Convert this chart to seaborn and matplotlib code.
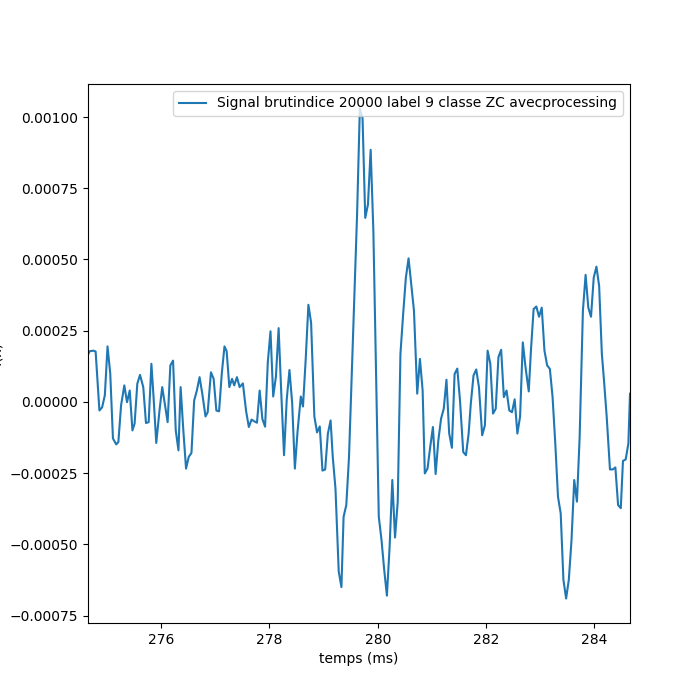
"""
plot.py — raw signal window (index 20000, label 9, class ZC) with processing.
"""

import matplotlib
matplotlib.use("Agg")

import matplotlib.pyplot as plt
import seaborn as sns
import pandas as pd

# ──────────────────────────────────────────────
# DATA
# ──────────────────────────────────────────────

temps_ms = [
    274.64, 274.68, 274.75, 274.79, 274.86, 274.91, 274.96, 275.01, 275.06, 275.11,
    275.17, 275.21, 275.26, 275.32, 275.37, 275.42, 275.47, 275.51, 275.56, 275.61,
    275.67, 275.72, 275.77, 275.82, 275.86, 275.91, 275.97, 276.02, 276.12, 276.17,
    276.22, 276.27, 276.32, 276.36, 276.41, 276.46, 276.51, 276.56, 276.61, 276.66,
    276.71, 276.76, 276.82, 276.86, 276.92, 276.97, 277.02, 277.07, 277.12, 277.17,
    277.21, 277.26, 277.31, 277.35, 277.40, 277.45, 277.51, 277.57, 277.62, 277.67,
    277.72, 277.77, 277.82, 277.87, 277.92, 277.97, 278.02, 278.07, 278.12, 278.17,
    278.22, 278.27, 278.32, 278.37, 278.42, 278.47, 278.52, 278.58, 278.62, 278.67,
    278.72, 278.77, 278.83, 278.88, 278.93, 278.98, 279.03, 279.08, 279.13, 279.17,
    279.22, 279.28, 279.33, 279.37, 279.42, 279.47, 279.52, 279.57, 279.62, 279.67,
    279.72, 279.77, 279.82, 279.87, 279.92, 279.97, 280.02, 280.07, 280.12, 280.17,
    280.22, 280.27, 280.32, 280.37, 280.42, 280.47, 280.52, 280.57, 280.62, 280.67,
    280.73, 280.78, 280.83, 280.87, 280.92, 280.97, 281.02, 281.07, 281.12, 281.17,
    281.22, 281.27, 281.32, 281.37, 281.42, 281.47, 281.52, 281.58, 281.63, 281.68,
    281.72, 281.77, 281.82, 281.87, 281.93, 281.98, 282.03, 282.08, 282.13, 282.18,
    282.23, 282.28, 282.33, 282.38, 282.43, 282.48, 282.53, 282.58, 282.63, 282.68,
    282.73, 282.79, 282.83, 282.88, 282.93, 282.98, 283.03, 283.08, 283.13, 283.18,
    283.23, 283.28, 283.33, 283.38, 283.43, 283.48, 283.53, 283.58, 283.63, 283.68,
    283.73, 283.79, 283.84, 283.89, 283.94, 283.99, 284.04, 284.09, 284.14, 284.18,
    284.23, 284.29, 284.34, 284.39, 284.44, 284.49, 284.53, 284.58, 284.63, 284.66,
]

signal = [
    16.3e-5, 17.8e-5, 18.0e-5, 17.7e-5, -3.0e-5, -1.9e-5, 2.3e-5, 19.5e-5, 10.0e-5, -12.8e-5,
    -14.9e-5, -14.1e-5, -1.2e-5, 5.8e-5, -0.1e-5, 4.0e-5, -10.0e-5, -7.6e-5, 6.4e-5, 9.5e-5,
    5.2e-5, -7.4e-5, -7.1e-5, 13.4e-5, 1.7e-5, -14.4e-5, -3.0e-5, 5.2e-5, -7.1e-5, 12.8e-5,
    14.5e-5, -10.0e-5, -17.0e-5, 5.2e-5, -10.0e-5, -23.4e-5, -19.3e-5, -17.9e-5, 0.5e-5, 4.0e-5,
    8.7e-5, 2.9e-5, -5.1e-5, -3.6e-5, 10.4e-5, 8.1e-5, -3.0e-5, -3.3e-5, 9.9e-5, 19.5e-5,
    17.8e-5, 5.2e-5, 8.1e-5, 5.8e-5, 8.7e-5, 5.2e-5, 6.5e-5, -3.3e-5, -8.8e-5, -6.2e-5,
    -6.8e-5, -7.3e-5, 4.0e-5, -6.0e-5, -8.7e-5, 13.9e-5, 24.8e-5, 1.9e-5, 8.9e-5, 25.9e-5,
    2.6e-5, -18.7e-5, 0.9e-5, 11.2e-5, -0.3e-5, -23.4e-5, -10.3e-5, 1.9e-5, -1.6e-5, 14.9e-5,
    34.1e-5, 27.8e-5, -5.1e-5, -10.7e-5, -8.6e-5, -24.1e-5, -23.7e-5, -11.1e-5, -6.5e-5, -19.3e-5,
    -30.4e-5, -59.5e-5, -65.0e-5, -40.3e-5, -36.2e-5, -19.3e-5, 8.7e-5, 37.8e-5, 66.4e-5, 103.0e-5,
    99.6e-5, 64.6e-5, 69.3e-5, 88.5e-5, 60.0e-5, 10.0e-5, -40.3e-5, -48.4e-5, -58.9e-5, -68.0e-5,
    -50.8e-5, -27.4e-5, -47.6e-5, -35.0e-5, 16.9e-5, 30.8e-5, 43.6e-5, 50.4e-5, 41.3e-5, 32.0e-5,
    2.9e-5, 15.1e-5, 4.0e-5, -25.1e-5, -23.4e-5, -15.8e-5, -8.8e-5, -25.3e-5, -13.5e-5, -5.9e-5,
    -2.4e-5, 7.8e-5, -11.0e-5, -16.1e-5, 9.8e-5, 11.7e-5, 0.5e-5, -17.6e-5, -18.7e-5, -11.0e-5,
    -0.5e-5, 9.3e-5, 11.4e-5, 5.2e-5, -11.7e-5, -8.2e-5, 18.0e-5, 13.4e-5, -4.1e-5, -2.4e-5,
    15.7e-5, 18.3e-5, 1.7e-5, 4.0e-5, -3.0e-5, -3.6e-5, 0.9e-5, -11.1e-5, -5.1e-5, 20.9e-5,
    12.2e-5, 3.7e-5, 18.0e-5, 32.6e-5, 33.5e-5, 29.9e-5, 33.1e-5, 18.0e-5, 12.8e-5, 11.6e-5,
    1.7e-5, -14.6e-5, -33.3e-5, -39.1e-5, -62.4e-5, -69.0e-5, -62.4e-5, -48.4e-5, -27.4e-5, -35.0e-5,
    -12.3e-5, 32.0e-5, 44.6e-5, 33.1e-5, 29.9e-5, 43.6e-5, 47.5e-5, 40.7e-5, 16.9e-5, 7.5e-5,
    -5.3e-5, -23.7e-5, -23.7e-5, -23.0e-5, -36.2e-5, -37.3e-5, -20.7e-5, -20.2e-5, -14.6e-5, 2.9e-5,
]

legend_label = "Signal brutindice 20000 label 9 classe ZC avecprocessing"

# ──────────────────────────────────────────────
# PLOT
# ──────────────────────────────────────────────

df = pd.DataFrame({"temps": temps_ms, "signal": signal})

fig, ax = plt.subplots(figsize=(7, 7), dpi=100)
sns.lineplot(data=df, x="temps", y="signal", ax=ax, color="#1f77b4",
             linewidth=1.5, label=legend_label)

ax.set_xlim(df["temps"].min(), df["temps"].max())
ax.set_xlabel("temps (ms)")
ax.set_ylabel("f(x)")
ax.legend(loc="upper right")

fig.savefig("out.png", dpi=100)
plt.close(fig)
